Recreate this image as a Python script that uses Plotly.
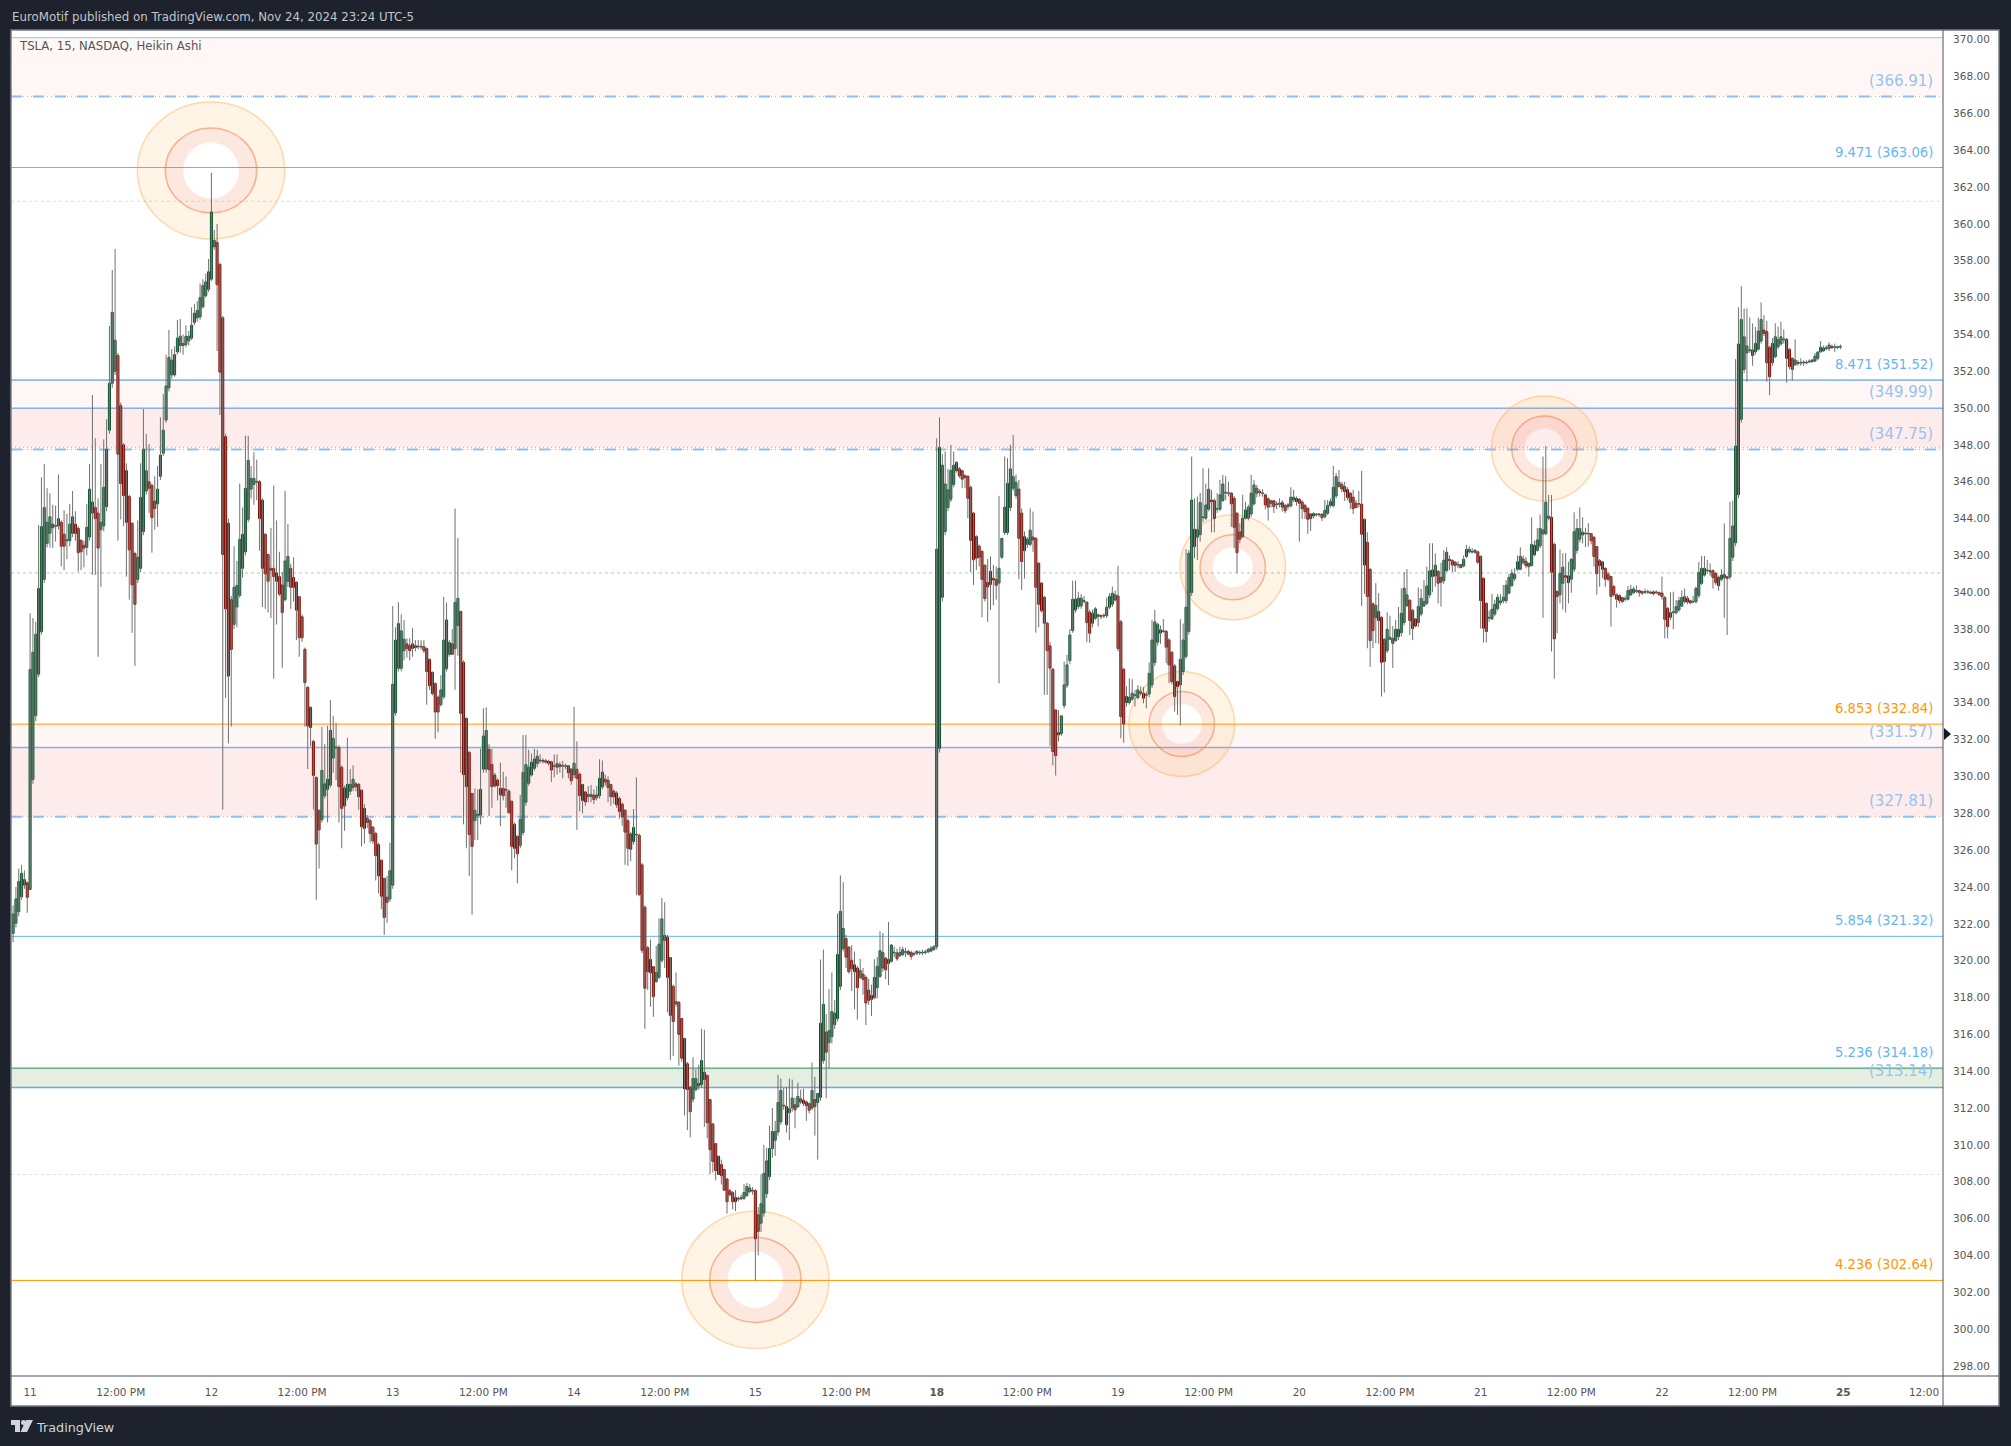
import numpy as np
import plotly.graph_objects as go

# TSLA 15 min Heikin Ashi bars: (open, close, high, low)
nov08 = [(321.48,322.53,323.0,321.0),(322.03,323.35,324.0,321.8),(322.66,324.3,325.0,322.4),(323.47,324.74,325.2,323.3),(324.1,324.4,324.9,323.9),(324.23,323.44,324.3,322.6)]
nov11 = [(323.87,335.8,338.86,323.87),(329.84,336.74,338.6,329.6),(333.3,337.72,338.4,333.0),(335.55,340.2,343.65,335.4),(337.86,343.56,346.24,337.7),(340.7,344.6,346.97,340.5),(342.65,343.8,345.65,342.43),(343.2,344.1,345.37,342.43),(343.7,343.5,344.75,342.4),(343.58,343.62,344.7,342.75),(343.6,344.0,346.4,343.4),(343.8,342.5,343.9,341.4),(343.15,342.5,344.45,341.2),(342.8,342.85,344.25,341.8),(342.8,343.7,344.8,342.5),(343.2,344.1,345.5,343.0),(343.7,343.2,344.4,342.8),(343.47,342.15,343.6,341.12),(342.8,342.2,342.9,341.2),(342.55,342.4,342.8,341.35),(342.44,343.53,344.8,342.0),(343.0,345.6,346.97,342.8),(344.3,344.9,350.71,340.94),(344.6,344.0,348.36,340.94),(344.3,342.4,345.1,336.5),(343.4,343.8,346.97,340.3),(343.6,345.7,348.3,343.3),(344.65,347.76,349.4,344.4),(348.8,351.35,354.46,348.6),(351.35,355.2,357.5,351.1),(352.0,353.68,358.64,351.8),(352.85,347.5,353.0,342.8),(350.13,345.9,350.3,343.95),(348.0,345.25,348.1,343.6),(346.6,343.8,347.0,340.85),(345.2,342.3,345.3,339.6),(343.75,340.4,343.8,337.8),(342.1,339.35,342.2,336.0),(340.7,341.9,343.9,340.5),(341.3,345.15,347.0,341.1),(343.3,347.76,349.95,343.1),(345.5,346.6,348.6,345.3),(346.0,345.65,348.05,344.3),(345.8,344.05,345.9,342.15),(344.95,344.55,346.3,343.4),(344.8,345.6,346.85,343.55),(346.3,347.45,349.5,346.1),(347.55,348.8,350.77,347.4),(349.35,351.2,352.9,349.2),(351.1,352.75,354.24,350.9),(351.8,352.6,353.2,351.6),(351.8,352.9,353.35,351.7),(353.05,353.8,354.78,352.9),(353.4,353.9,354.84,353.0),(353.5,353.4,354.0,352.9),(353.45,353.9,354.5,353.3),(353.65,353.9,354.2,353.4),(353.8,354.5,355.47,353.7),(354.65,355.15,355.65,354.5),(354.9,355.3,355.8,354.7),(354.95,356.0,356.77,354.8),(355.5,356.65,357.0,355.4),(356.1,356.85,357.3,356.0),(356.45,357.4,358.1,356.3)]
nov12 = [(357.0,360.65,362.77,356.9),(358.76,359.1,359.67,358.6),(359.0,356.7,360.0,353.1),(357.8,351.95,357.9,349.63),(354.9,342.05,355.0,328.2),(348.45,339.1,348.6,334.25),(343.75,335.45,344.0,331.8),(339.6,336.9,339.8,332.7),(338.26,340.27,342.5,338.0),(339.2,340.36,341.7,338.1),(339.83,342.87,345.9,339.7),(341.3,343.15,344.6,340.8),(342.2,345.64,348.5,342.0),(343.96,347.16,348.5,343.8),(345.6,346.18,346.85,345.1),(345.86,346.18,347.6,344.75),(346.02,345.98,347.2,345.0),(346.0,344.0,346.1,342.25),(345.0,341.3,345.1,339.2),(343.15,341.0,343.2,339.1),(342.05,340.6,342.1,338.9),(341.3,341.2,343.5,338.6),(341.3,340.85,345.8,335.3),(341.05,340.6,343.9,338.25),(340.85,339.9,342.2,339.8),(340.4,338.9,341.1,335.9),(339.6,341.7,345.5,339.5),(340.6,341.95,343.7,340.3),(341.3,340.27,341.55,339.1),(340.8,340.27,341.9,339.5),(340.54,339.03,340.6,337.4),(339.76,337.53,339.8,336.5),(338.67,337.53,338.8,337.3),(336.9,335.1,337.0,332.7),(334.84,332.74,334.9,330.4),(333.75,332.66,333.8,331.65),(331.9,330.06,332.0,328.2),(329.95,326.33,330.0,323.3),(328.16,327.1,328.2,325.0),(327.65,330.33,332.7,327.5),(328.95,329.6,331.75,328.8),(329.3,329.85,332.75,327.5),(329.53,332.5,334.15,329.4),(331.0,332.07,333.3,330.2),(331.55,331.6,332.9,329.8),(331.58,329.45,331.7,327.5),(330.5,328.27,330.6,326.1),(329.37,328.4,329.5,327.05),(328.85,329.57,332.1,328.7),(329.2,329.57,330.4,329.0),(329.4,329.85,330.6,329.2),(329.6,329.45,329.7,329.2),(329.57,328.9,329.65,328.2),(329.25,327.27,329.3,326.2),(328.27,327.18,328.5,326.35),(327.73,327.5,327.9,327.2),(327.6,326.9,327.7,326.4),(327.25,326.5,327.3,326.35),(326.9,325.7,327.0,324.35),(326.3,324.6,326.4,323.65),(325.45,323.5,325.5,322.8),(324.47,322.35,324.5,321.4),(323.44,323.17,324.6,322.05),(323.35,324.88,326.4,323.2)]
nov13 = [(324.1,335.0,339.25,323.9),(333.45,337.4,338.1,333.3),(335.87,338.3,339.45,335.7),(335.87,337.9,338.8,335.7),(336.83,337.45,338.5,336.3),(337.2,336.95,337.5,336.45),(337.1,336.83,337.5,336.3),(336.95,337.2,338.05,336.5),(337.1,337.0,337.4,336.8),(337.03,337.07,337.4,336.9),(337.03,337.07,337.4,336.9),(337.05,336.83,337.4,336.7),(336.94,335.7,337.0,333.9),(336.36,334.93,336.4,334.7),(335.65,334.5,335.7,334.4),(335.05,333.5,335.1,332.05),(334.3,333.5,334.4,332.4),(333.9,334.7,335.5,333.8),(334.33,337.4,339.75,334.2),(335.85,338.5,339.45,335.7),(336.63,337.27,337.4,336.5),(337.2,336.63,338.0,336.6),(336.94,339.45,344.55,334.7),(338.2,339.67,342.95,336.55),(338.96,333.43,339.0,330.2),(336.2,330.1,336.3,327.4),(333.15,329.45,333.2,326.1),(331.3,326.85,331.4,324.6),(329.08,326.2,329.1,322.5),(327.6,328.16,329.35,326.55),(327.87,327.94,329.3,326.55),(327.9,329.3,331.5,327.4),(330.4,332.2,333.7,330.2),(330.4,332.5,333.75,330.2),(331.47,330.37,331.75,327.85),(330.65,329.45,331.5,328.3),(330.08,329.48,330.2,329.4),(329.8,329.5,329.9,328.7),(329.35,329.0,330.75,327.3),(329.35,328.95,330.25,328.7),(329.25,329.29,330.0,328.3),(329.2,328.03,329.3,328.0),(328.65,326.2,328.7,324.9),(327.4,326.1,327.5,325.55),(326.75,325.8,326.8,324.2),(326.26,327.67,329.0,326.1),(326.96,330.22,332.25,326.8),(328.6,330.64,332.25,328.4),(329.63,330.5,331.45,329.5),(330.08,330.77,331.25,330.0),(330.44,330.95,331.5,330.3),(330.7,331.1,331.45,330.5),(330.89,330.85,331.2,330.7),(330.87,330.82,331.0,330.7),(330.85,330.78,330.95,330.7),(330.82,330.72,330.9,330.6),(330.8,330.35,330.85,329.7),(330.55,330.59,331.2,329.95),(330.5,330.7,331.2,330.1),(330.64,330.53,330.8,330.2),(330.56,330.6,330.85,329.9),(330.55,330.58,330.7,330.4),(330.58,330.2,330.6,329.9),(330.4,329.77,330.45,329.55)]
nov14 = [(330.1,330.72,333.78,329.9),(330.39,329.9,331.9,327.1),(330.12,328.96,330.2,328.1),(329.56,328.7,329.6,328.0),(329.16,328.62,329.2,328.4),(328.9,329.02,329.48,328.6),(328.92,329.03,329.54,328.6),(328.98,328.75,329.3,328.5),(328.85,329.0,329.48,328.7),(328.95,329.9,330.93,328.8),(329.43,330.24,330.87,329.3),(329.85,329.7,330.1,329.5),(329.79,329.4,330.0,328.6),(329.56,328.9,329.6,328.4),(329.2,328.9,329.3,328.5),(329.1,328.46,329.2,328.3),(328.8,328.1,328.9,327.7),(328.5,327.8,328.6,327.33),(328.17,326.98,328.2,325.2),(327.6,326.1,327.7,325.15),(326.88,326.05,327.0,325.4),(326.46,327.23,328.23,326.3),(326.82,326.86,329.95,323.55),(326.8,323.6,326.9,323.5),(325.2,320.56,325.3,320.4),(322.9,318.5,323.0,316.3),(320.7,319.4,320.8,318.4),(320.06,319.34,321.15,317.5),(319.67,318.05,319.7,316.95),(318.86,319.36,320.8,318.8),(319.1,320.9,322.3,319.0),(320.02,322.27,323.4,319.9),(321.1,321.37,323.17,319.6),(321.27,319.09,321.4,317.2),(320.17,317.03,320.2,314.6),(318.6,316.7,318.7,314.83),(317.65,317.78,319.36,317.5),(317.74,316.0,317.8,314.3),(316.86,314.7,316.9,314.5),(315.78,313.04,315.8,311.6),(314.4,313.0,314.5,310.8),(313.12,311.8,313.2,310.4),(312.48,313.6,314.75,312.3),(313.0,313.6,314.1,312.9),(313.33,313.2,314.35,313.0),(313.27,314.58,316.3,313.1),(313.93,313.54,316.25,310.98),(313.77,311.2,313.8,310.36),(312.46,309.74,312.5,308.4),(311.13,309.1,311.2,308.5),(310.07,308.6,310.1,308.07),(309.38,308.39,309.4,308.38),(308.93,308.32,309.2,307.85),(308.66,307.54,308.7,307.5),(308.14,306.91,308.2,306.27),(307.51,307.29,307.6,307.2),(307.41,306.91,307.5,306.5),(307.14,306.91,307.55,306.4),(307.05,307.09,307.2,306.95),(307.07,307.14,307.3,307.0),(307.1,307.41,307.87,307.0),(307.24,307.74,307.93,307.2),(307.45,307.66,307.87,307.4),(307.53,307.49,307.7,307.3)]
nov15 = [(307.51,304.9,307.6,302.63),(306.2,305.3,306.62,304.0),(305.75,306.8,308.4,305.27),(306.3,308.45,310.0,306.1),(307.35,309.13,309.85,307.1),(308.28,309.8,311.05,308.1),(309.8,310.72,312.0,309.3),(310.25,310.73,311.3,309.4),(310.7,312.3,313.8,310.5),(311.25,312.96,313.6,311.1),(312.15,312.11,313.1,311.9),(312.08,311.09,313.15,310.67),(311.75,311.96,313.6,310.25),(312.0,312.54,313.54,311.8),(312.17,311.9,312.55,310.9),(312.06,312.63,313.37,312.0),(312.33,312.5,313.0,312.2),(312.42,312.25,313.05,312.1),(312.33,312.13,312.4,311.3),(312.23,311.88,312.3,311.7),(312.0,312.96,314.47,311.9),(312.46,312.08,313.7,310.5),(312.3,312.79,312.8,309.2),(312.58,316.6,320.06,312.4),(314.58,317.63,320.6,314.4),(316.12,315.03,317.1,312.53),(315.55,316.2,318.46,314.16),(315.87,317.24,319.36,315.5),(316.53,317.15,317.85,316.3),(316.86,320.33,322.56,316.7),(318.6,322.68,324.63,318.4),(320.65,321.75,324.26,320.5),(321.2,320.19,321.4,319.6),(320.73,319.4,320.8,319.3),(320.02,319.56,320.85,318.36),(319.77,319.4,320.5,317.36),(319.6,318.53,319.7,316.8),(319.09,319.46,320.1,319.0),(319.27,318.98,319.6,318.15),(319.09,317.7,319.2,316.5),(318.4,317.84,319.0,317.6),(318.11,317.9,318.7,317.0),(317.99,319.09,320.08,317.9),(318.53,319.69,320.2,317.95),(319.15,320.54,321.6,319.05),(319.6,320.44,321.5,319.4),(320.13,319.5,320.2,319.0),(319.85,320.06,322.1,318.67),(319.96,320.85,320.9,319.9),(320.42,320.46,320.75,320.2),(320.42,320.1,320.65,320.0),(320.27,320.44,320.75,320.2),(320.33,320.6,320.75,320.25),(320.45,320.49,320.7,320.2),(320.5,320.35,320.6,320.3),(320.44,320.23,320.55,320.05),(320.35,320.39,320.5,320.25),(320.4,320.5,320.58,320.3),(320.42,320.46,320.55,320.3),(320.42,320.46,320.6,320.3),(320.44,320.48,320.6,320.35),(320.48,320.6,320.7,320.4),(320.52,320.68,320.8,320.45),(320.6,320.75,320.85,320.55)]
nov18 = [(320.75,342.34,348.36,320.6),(331.53,347.87,349.5,331.3),(339.73,346.9,347.5,339.5),(343.3,345.88,347.64,343.1),(344.6,345.56,346.7,344.4),(345.05,346.62,348.0,344.9),(345.85,346.9,347.64,345.7),(346.6,347.06,347.1,346.5),(346.7,346.33,346.8,346.2),(346.6,346.14,346.65,345.65),(346.33,346.23,346.4,345.65),(346.3,345.1,346.35,344.02),(345.7,342.82,345.8,341.09),(344.3,341.76,344.35,340.4),(343.02,341.85,343.1,341.2),(342.5,341.9,342.6,341.4),(342.23,340.7,342.25,338.64),(341.47,339.66,341.5,339.5),(340.53,340.3,341.8,338.39),(340.42,341.14,341.95,339.04),(340.76,340.67,341.5,339.3),(340.7,340.38,341.4,339.6),(340.5,341.3,345.23,335.06),(341.9,342.93,342.95,341.8),(343.24,344.62,347.37,343.1),(343.24,345.92,347.28,343.1),(344.6,346.7,348.0,344.4),(345.65,346.28,348.54,345.5),(345.25,345.97,346.4,345.1),(345.6,342.93,346.1,340.71),(344.3,341.67,344.55,340.13),(343.02,342.26,343.3,340.75),(342.6,342.88,343.0,342.4),(342.6,343.37,344.56,342.5),(343.0,342.84,344.38,342.2),(342.93,340.27,343.0,337.81),(341.58,339.35,341.6,338.1),(340.5,339.0,340.55,338.9),(339.73,338.32,339.8,334.43),(338.32,336.83,338.4,334.43),(337.09,335.88,337.3,331.66),(335.82,331.35,335.9,330.6),(333.61,331.13,333.65,330.05),(332.38,332.26,333.6,331.9),(332.33,333.29,333.3,332.2),(333.85,334.97,336.24,333.7),(334.95,336.06,336.6,334.8),(336.29,337.68,338.0,336.1),(337.92,339.62,340.63,337.8),(339.04,339.62,340.63,338.9),(339.22,339.68,340.03,339.1),(339.26,339.68,339.9,339.1),(339.5,339.55,339.8,339.4),(339.46,338.35,339.5,337.29),(338.92,337.78,339.05,337.25),(338.32,338.86,339.05,338.1),(338.59,339.1,339.2,338.5),(338.77,338.7,338.85,338.15),(338.73,338.68,338.8,338.55),(338.71,338.75,338.85,338.6),(338.73,339.19,339.7,338.6),(339.19,339.77,339.95,339.1),(339.35,339.95,340.31,339.2),(339.58,339.86,340.1,339.5)]
nov19 = [(339.8,336.94,341.43,336.8),(338.4,333.25,338.5,332.07),(335.82,332.85,335.9,331.84),(334.01,334.34,334.9,333.8),(334.01,334.3,335.33,333.9),(334.2,334.52,335.28,334.1),(334.4,334.43,334.7,333.8),(334.28,334.7,334.95,334.2),(334.52,334.6,334.9,334.4),(334.52,334.25,334.85,333.97),(334.41,334.45,334.6,333.7),(334.48,335.6,336.2,334.3),(334.97,337.41,338.5,334.8),(336.18,338.39,339.04,336.0),(337.29,338.26,338.35,337.1),(337.78,337.96,338.2,337.2),(337.87,337.91,338.54,337.8),(337.88,337.02,337.95,336.15),(337.41,336.06,337.5,335.06),(336.74,335.15,336.8,335.0),(336.0,334.34,336.1,333.52),(335.15,334.88,335.2,333.34),(334.97,336.36,338.54,332.76),(335.7,337.41,338.3,335.5),(336.51,339.19,342.34,336.4),(337.87,342.12,342.3,337.7),(339.98,345.01,347.37,339.8),(342.48,343.42,345.1,341.85),(342.99,343.39,345.2,341.75),(343.13,344.87,345.4,342.75),(344.05,344.09,346.73,343.8),(344.02,344.74,345.9,343.9),(344.51,345.59,346.73,344.4),(345.01,344.92,345.55,343.25),(344.98,344.0,345.1,343.25),(344.51,344.55,345.38,344.3),(344.51,345.29,346.1,344.4),(344.98,345.88,346.37,344.9),(345.39,345.43,346.3,345.0),(345.36,345.4,346.0,345.2),(345.38,344.8,345.45,343.55),(345.1,343.53,345.23,342.39),(344.29,342.15,344.35,341.03),(343.28,342.88,343.75,342.66),(343.02,344.02,345.29,342.95),(344.02,344.47,344.92,343.95),(344.02,344.62,344.75,343.9),(344.25,345.38,346.37,344.1),(344.8,345.83,346.1,344.7),(345.38,345.65,345.83,345.16),(345.48,345.41,345.6,345.2),(345.36,345.4,345.59,345.2),(345.29,344.74,345.35,344.5),(345.07,344.62,345.15,343.89),(344.83,344.97,345.01,344.6),(344.97,344.65,345.0,344.3),(344.76,344.8,344.95,344.5),(344.78,344.83,345.1,344.6),(344.87,344.62,345.0,344.38),(344.71,344.43,344.8,344.29),(344.65,344.75,344.85,344.5),(344.69,345.16,345.7,344.6),(345.01,345.16,345.56,344.9),(345.09,344.92,345.2,344.7)]
nov20 = [(345.05,344.83,345.1,342.75),(344.9,344.54,345.0,343.98),(344.72,344.38,344.8,343.98),(344.56,343.96,344.6,343.17),(344.25,344.0,344.3,343.33),(344.14,344.27,344.35,344.0),(344.21,344.25,344.3,344.1),(344.21,344.25,344.3,344.1),(344.23,344.05,344.3,343.87),(344.1,344.45,345.01,344.0),(344.29,344.72,345.01,344.2),(344.72,344.92,345.1,344.6),(344.7,345.7,346.86,344.6),(345.23,346.28,346.46,345.1),(345.74,345.97,346.64,345.7),(345.86,345.61,346.0,345.43),(345.74,345.46,346.0,344.96),(345.57,345.14,345.7,345.0),(345.38,344.89,345.45,344.52),(345.16,344.54,345.56,344.25),(344.83,344.6,345.0,344.56),(344.78,344.82,345.5,344.6),(344.78,343.15,346.59,339.26),(343.96,341.48,344.0,339.91),(342.71,339.77,343.26,336.96),(341.25,337.38,341.3,335.95),(339.37,337.92,339.45,336.96),(338.62,339.28,340.49,337.23),(338.95,338.46,339.95,337.2),(338.64,336.2,338.7,334.34),(337.45,336.24,337.5,334.55),(336.83,337.99,338.91,336.7),(337.45,337.56,338.73,337.4),(337.48,337.23,338.17,335.89),(337.38,337.99,338.5,337.3),(337.59,337.99,339.2,337.4),(337.81,338.86,340.22,337.6),(338.35,340.22,341.1,338.2),(339.28,339.86,341.25,339.2),(339.57,338.46,339.6,337.68),(339.02,338.03,339.1,337.4),(338.55,338.17,338.6,338.1),(338.35,339.22,340.25,338.1),(338.82,339.67,340.18,338.7),(339.26,339.49,340.67,339.2),(339.4,340.34,341.39,339.3),(339.86,341.16,342.66,339.7),(340.85,341.21,342.66,340.0),(340.89,341.47,342.12,340.3),(341.14,340.49,341.2,339.4),(340.81,340.54,341.6,339.22),(340.63,341.74,342.3,340.45),(341.18,342.17,342.44,341.1),(341.79,341.72,342.0,341.2),(341.72,341.48,341.8,341.1),(341.63,341.45,341.7,341.1),(341.48,341.52,341.7,341.3),(341.5,341.34,341.55,341.3),(341.43,341.79,342.0,341.35),(341.94,342.33,342.57,341.85),(342.19,342.33,342.5,342.1),(342.18,342.22,342.4,342.1),(342.17,342.28,342.35,342.1),(342.2,341.63,342.25,341.55)]
nov21 = [(341.95,339.55,342.0,338.03),(340.76,338.05,340.8,337.27),(339.4,337.87,339.45,337.27),(338.64,338.6,339.0,338.4),(338.55,339.08,339.9,338.5),(338.82,339.35,339.6,338.7),(339.11,339.73,339.9,339.0),(339.44,339.53,339.9,339.3),(339.53,339.73,340.4,339.4),(339.55,340.38,340.66,339.4),(339.95,340.81,341.0,339.9),(340.36,341.03,341.25,340.3),(340.74,340.98,341.3,340.6),(341.25,341.65,342.0,341.15),(341.25,341.95,342.44,341.2),(341.61,341.81,342.0,341.5),(341.68,341.45,341.9,341.3),(341.57,341.39,341.6,340.85),(341.45,342.6,344.07,341.4),(342.03,342.55,342.8,341.95),(342.28,342.84,343.5,342.2),(342.52,343.46,344.22,342.4),(343.17,343.38,347.37,338.62),(343.17,344.89,347.94,343.1),(344.02,344.13,345.28,343.9),(344.07,341.09,345.28,336.78),(342.6,337.47,342.7,335.31),(340.04,339.77,340.1,337.77),(339.86,341.03,342.33,339.4),(340.49,341.36,342.12,339.05),(340.9,340.81,342.12,338.9),(340.89,340.52,341.66,339.4),(340.71,341.79,341.85,339.97),(341.25,343.29,344.34,341.1),(342.28,343.46,343.98,342.1),(342.88,343.46,344.61,342.7),(343.11,343.26,344.07,342.65),(343.18,343.22,343.5,342.45),(343.16,343.2,343.75,342.48),(343.18,342.8,343.2,342.6),(342.99,341.94,343.05,341.4),(342.48,341.01,342.5,339.86),(341.72,341.45,341.8,340.3),(341.65,341.25,341.7,340.76),(341.3,340.71,341.35,340.3),(340.98,340.71,341.1,340.6),(340.85,339.77,340.9,338.14),(340.31,339.87,340.4,339.76),(339.86,339.62,339.95,339.17),(339.82,339.55,339.9,339.4),(339.71,339.49,339.75,339.44),(339.62,339.66,339.8,339.5),(339.62,340.09,340.34,339.55),(339.86,340.14,340.4,339.8),(339.98,340.18,340.3,339.9),(340.05,340.09,340.37,339.95),(340.09,339.98,340.15,339.76),(340.03,339.95,340.1,339.85),(340.0,340.04,340.2,339.9),(340.0,340.04,340.15,339.92),(340.0,339.95,340.1,339.9),(340.02,339.92,340.1,339.83),(339.98,340.02,340.1,339.9),(339.98,339.87,340.05,339.8)]
nov22 = [(339.96,339.76,340.85,339.6),(339.72,338.53,339.8,337.5),(339.13,338.13,339.2,337.5),(338.64,338.89,340.0,338.5),(338.89,338.94,340.03,338.0),(338.89,339.22,339.58,338.8),(339.04,339.54,339.75,338.95),(339.25,339.72,340.1,339.2),(339.49,339.76,340.2,339.4),(339.67,339.47,339.8,339.35),(339.54,339.43,339.6,339.35),(339.47,339.51,339.8,339.4),(339.49,340.21,340.3,339.4),(339.83,341.08,341.64,339.7),(340.48,341.3,341.97,340.4),(340.93,341.3,341.97,340.85),(341.17,341.21,341.75,341.0),(341.17,341.12,341.57,340.9),(341.17,340.81,341.25,340.2),(341.02,340.52,341.1,340.4),(340.81,340.36,340.9,340.08),(340.7,340.93,341.25,340.6),(340.79,340.97,343.74,338.62),(340.84,340.75,340.9,337.68),(340.84,342.93,344.92,340.7),(341.9,343.6,344.97,341.7),(342.69,347.94,352.66,342.5),(345.3,353.48,355.47,345.1),(349.39,354.81,356.62,349.2),(352.1,353.87,355.41,351.9),(353.0,353.37,355.41,351.43),(353.13,353.17,354.92,353.0),(353.15,352.86,354.6,352.3),(353.06,353.51,354.4,352.9),(353.2,354.18,354.92,353.1),(353.64,354.81,355.74,353.5),(354.24,354.05,355.05,353.9),(354.15,352.46,354.74,351.43),(353.29,351.7,353.4,350.7),(352.46,353.51,353.8,352.3),(352.79,353.87,354.6,352.7),(353.33,353.73,354.42,353.2),(353.48,353.87,354.69,353.4),(353.71,353.75,354.27,353.5),(353.73,352.7,353.8,351.38),(353.19,352.25,353.25,352.1),(352.7,352.1,352.75,351.49),(352.35,352.61,353.73,352.3),(352.48,352.43,352.6,352.3),(352.44,352.48,352.7,352.3),(352.46,352.5,352.6,352.3),(352.48,352.45,352.6,352.4),(352.5,352.55,352.65,352.45),(352.53,352.61,352.65,352.45),(352.55,352.82,353.0,352.5),(352.7,353.04,353.1,352.6),(353.06,353.3,353.64,353.0),(353.11,353.26,353.4,353.05),(353.22,353.28,353.4,353.15),(353.24,353.42,353.57,353.1),(353.35,353.28,353.45,353.2),(353.29,353.33,353.5,353.05),(353.29,353.33,353.4,353.2),(353.31,353.35,353.45,353.2)]

price_ticks = list(range(298, 372, 2))
time_tick_bars = [0, 32, 64, 96, 128, 160, 192, 224, 256, 288, 320, 352, 384, 416, 448, 480, 512, 544, 576, 608, 640, 668.5]
time_tick_text = ["11", "12:00 PM", "12", "12:00 PM", "13", "12:00 PM", "14", "12:00 PM", "15", "12:00 PM", "<b>18</b>", "12:00 PM", "19", "12:00 PM", "20", "12:00 PM", "21", "12:00 PM", "22", "12:00 PM", "<b>25</b>", "12:00"]

# Fibonacci levels and their labels
fib_prices = [363.06, 351.52, 332.84, 321.32, 314.18, 302.64]
fib_labels = ["9.471 (363.06)", "8.471 (351.52)", "6.853 (332.84)", "5.854 (321.32)", "5.236 (314.18)", "4.236 (302.64)"]
fib_colors = ["#64b5f6", "#64b5f6", "#ff9800", "#64b5f6", "#64b5f6", "#ff9800"]
# Zone labels
zone_prices = [366.91, 349.99, 347.75, 331.57, 327.81, 313.14]
# Zones: (low, high, fill)
zone_low = [366.91, 347.87, 347.75, 327.81, 327.81, 313.12]
zone_high = [370.11, 351.52, 349.99, 332.84, 331.57, 314.14]
zone_fill = ["rgba(242,60,50,0.045)", "rgba(242,60,50,0.045)", "rgba(242,60,50,0.055)", "rgba(242,60,50,0.045)", "rgba(242,60,50,0.055)", "rgba(76,150,60,0.15)"]
# Faint dotted guide levels
guide_prices = [361.23, 341.05, 308.39]
guide_colors = ["#cfe3d8", "#a8d0a8", "#d3ece3"]
# Target donuts: centre bar, centre price, size class
donut_bar = [63.85, 256.0, 424.5, 406.5, 534.5]
donut_price = [362.9, 302.67, 341.36, 332.85, 347.81]
donut_rx = [(26.0, 16.13, 9.8), (26.0, 16.13, 9.8), (18.64, 11.54, 7.06), (18.64, 11.54, 7.06), (18.64, 11.54, 7.06)]
donut_ry = [(3.72, 2.31, 1.52), (3.72, 2.31, 1.52), (2.85, 1.765, 1.08), (2.85, 1.765, 1.08), (2.85, 1.765, 1.08)]

W, H = 2011, 1446
L, R, T, B = 11, 1943, 30, 1376


def px(x):
    return (x - L) / (R - L)


def py(y):
    return (B - y) / (B - T)


bars = nov08 + nov11 + nov12 + nov13 + nov14 + nov15 + nov18 + nov19 + nov20 + nov21 + nov22
idx = list(range(-len(nov08), len(bars) - len(nov08)))
o = [b[0] for b in bars]
c = [b[1] for b in bars]
h = [b[2] for b in bars]
l = [b[3] for b in bars]
up = [ci >= oi for oi, ci in zip(o, c)]

wx, wy = [], []
for i, hi, lo in zip(idx, h, l):
    wx += [i, i, None]
    wy += [lo, hi, None]

fig = go.Figure()
fig.add_trace(go.Scatter(x=wx, y=wy, mode="lines", line=dict(color="#707070", width=1), hoverinfo="skip", showlegend=False))
fig.add_trace(go.Bar(
    x=idx,
    y=[max(abs(ci - oi), 0.01) for oi, ci in zip(o, c)],
    base=[min(oi, ci) for oi, ci in zip(o, c)],
    width=0.72,
    marker=dict(
        color=["#429a6a" if u else "#ee3420" for u in up],
        line=dict(color=["#12502f" if u else "#7a0e06" for u in up], width=1),
    ),
    showlegend=False,
))

shapes = []


def ln(y, color, width=1, dash="solid"):
    shapes.append(dict(type="line", xref="paper", yref="y", x0=0, x1=1, y0=y, y1=y, layer="below",
                       line=dict(color=color, width=width, dash=dash)))


for lo, hi, f in zip(zone_low, zone_high, zone_fill):
    shapes.append(dict(type="rect", xref="paper", yref="y", x0=0, x1=1, y0=lo, y1=hi, layer="below", fillcolor=f, line=dict(width=0)))
for y, col in zip(guide_prices, guide_colors):
    ln(y, col, 1, "dot")

for y, col in zip(fib_prices, fib_colors):
    ln(y, col, 1)

# zone edges
BLUE = "#90bff0"
PINK = "#f59a9a"
ln(370.11, BLUE)
ln(366.91, BLUE, 2, "11px,11px")
ln(366.91, PINK, 1, "1px,3px")
ln(351.52, "#84aee6")
ln(351.52, PINK, 1, "1px,3px")
ln(349.99, "#84aee6", 1.5)
ln(349.99, PINK, 1, "1px,3px")
ln(347.87, PINK, 1, "1px,3px")
ln(347.75, BLUE, 2, "11px,11px")
ln(347.75, PINK, 1, "1px,3px")
ln(331.57, "#84aee6", 1.5)
ln(331.57, PINK, 1, "1px,3px")
ln(327.81, BLUE, 2, "11px,11px")
ln(327.81, PINK, 1, "1px,3px")
ln(314.14, "#6bb08c")
ln(313.12, "#64a4dc", 1.5)
ln(313.12, "#8bc48b", 1, "1px,3px")


def ellipse(cx, cy, rx, ry, reverse=False):
    t = np.linspace(0, 2 * np.pi, 73)
    if reverse:
        t = t[::-1]
    xs = cx + rx * np.cos(t)
    ys = cy + ry * np.sin(t)
    return "M" + " L".join(f"{a:.3f},{b:.3f}" for a, b in zip(xs, ys)) + " Z"


for cx, cy, (r1, r2, r3), (s1, s2, s3) in zip(donut_bar, donut_price, donut_rx, donut_ry):
    shapes.append(dict(type="path", xref="x", yref="y", layer="below", path=ellipse(cx, cy, r1, s1) + " " + ellipse(cx, cy, r2, s2, True),
                       fillcolor="rgba(255,152,0,0.10)", line=dict(width=0)))
    shapes.append(dict(type="path", xref="x", yref="y", layer="below", path=ellipse(cx, cy, r2, s2) + " " + ellipse(cx, cy, r3, s3, True),
                       fillcolor="rgba(240,100,50,0.15)", line=dict(width=0)))
    shapes.append(dict(type="circle", xref="x", yref="y", layer="below", x0=cx - r1, x1=cx + r1, y0=cy - s1, y1=cy + s1,
                       line=dict(color="rgba(255,170,70,0.42)", width=1.5)))
    shapes.append(dict(type="circle", xref="x", yref="y", layer="below", x0=cx - r2, x1=cx + r2, y0=cy - s2, y1=cy + s2,
                       line=dict(color="rgba(240,120,60,0.5)", width=1.5)))

# axis strips and frame
for x0, y0, x1, y1 in [(R, T, 1999, 1406), (L, B, R, 1406)]:
    shapes.append(dict(type="rect", xref="paper", yref="paper", x0=px(x0), x1=px(x1), y0=py(y1), y1=py(y0), layer="below",
                       fillcolor="#ffffff", line=dict(width=0)))
shapes.append(dict(type="rect", xref="paper", yref="paper", x0=px(L), x1=px(1999), y0=py(1406), y1=py(T), layer="above",
                   fillcolor="rgba(0,0,0,0)", line=dict(color="#787b86", width=1.5)))
shapes.append(dict(type="line", xref="paper", yref="paper", x0=px(R), x1=px(R), y0=py(1406), y1=py(T), layer="above", line=dict(color="#50535e", width=1)))
shapes.append(dict(type="line", xref="paper", yref="paper", x0=px(L), x1=px(1999), y0=py(B), y1=py(B), layer="above", line=dict(color="#50535e", width=1)))


def poly(points, color):
    d = "M" + " L".join(f"{px(a):.5f},{py(b):.5f}" for a, b in points) + " Z"
    shapes.append(dict(type="path", xref="paper", yref="paper", path=d, fillcolor=color, line=dict(width=0), layer="above"))


# last price arrow on the price scale
poly([(1944, 728), (1951, 734), (1944, 740)], "#131722")
# TradingView mark
poly([(11, 1420), (20, 1420), (20, 1432), (15, 1432), (15, 1425), (11, 1425)], "#d1d4dc")
poly([(26, 1420), (33, 1420), (27, 1432), (20.5, 1432)], "#d1d4dc")
shapes.append(dict(type="circle", xref="paper", yref="paper", x0=px(21), x1=px(26), y0=py(1425), y1=py(1420), fillcolor="#d1d4dc", line=dict(width=0), layer="above"))

ann = []
for y, txt, col in zip(fib_prices, fib_labels, fib_colors):
    ann.append(dict(xref="paper", yref="y", x=px(1935), y=y, yshift=15.5, xanchor="right", yanchor="middle", showarrow=False,
                    text=txt, font=dict(family="DejaVu Sans", size=13.2, color=col)))
for y in zone_prices:
    ann.append(dict(xref="paper", yref="y", x=px(1935), y=y, yshift=16, xanchor="right", yanchor="middle", showarrow=False,
                    text=f"({y:.2f})", font=dict(family="DejaVu Sans", size=15, color="#96c3f1")))
ann.append(dict(xref="paper", yref="paper", x=px(10), y=py(16.5), xanchor="left", yanchor="middle", showarrow=False,
                text="EuroMotif published on TradingView.com, Nov 24, 2024 23:24 UTC-5",
                font=dict(family="DejaVu Sans", size=11.8, color="#c3c5cc")))
ann.append(dict(xref="paper", yref="paper", x=px(17), y=py(46.5), xanchor="left", yanchor="middle", showarrow=False,
                text="TSLA, 15, NASDAQ, Heikin Ashi", font=dict(family="DejaVu Sans", size=11.7, color="#555555")))
ann.append(dict(xref="paper", yref="paper", x=px(34), y=py(1427), xanchor="left", yanchor="middle", showarrow=False,
                text="TradingView", font=dict(family="DejaVu Sans", size=12.8, color="#d1d4dc")))

fig.update_layout(
    width=W, height=H, autosize=False,
    margin=dict(l=L, r=W - R, t=T, b=H - B, pad=0),
    paper_bgcolor="#1e222d", plot_bgcolor="#ffffff",
    barmode="overlay", showlegend=False, shapes=shapes, annotations=ann,
    xaxis=dict(range=[-6.74, 675.2], tickmode="array", tickvals=time_tick_bars, ticktext=time_tick_text,
               showgrid=False, zeroline=False, ticks="outside", ticklen=6, tickcolor="rgba(255,255,255,0)",
               tickfont=dict(family="DejaVu Sans", size=10.5, color="#555555"), showline=False, fixedrange=True),
    yaxis=dict(range=[297.45, 370.527], side="right", tickmode="array", tickvals=price_ticks,
               ticktext=[f"{v:.2f}" for v in price_ticks], showgrid=False, zeroline=False, ticks="outside", ticklen=7,
               tickcolor="rgba(255,255,255,0)", tickfont=dict(family="DejaVu Sans", size=10.5, color="#555555"),
               showline=False, fixedrange=True),
)

fig.write_html("out.html", config=dict(displayModeBar=False),
               post_script="document.body.style.margin='0';document.body.style.background='#1e222d';document.body.style.overflow='hidden';")
